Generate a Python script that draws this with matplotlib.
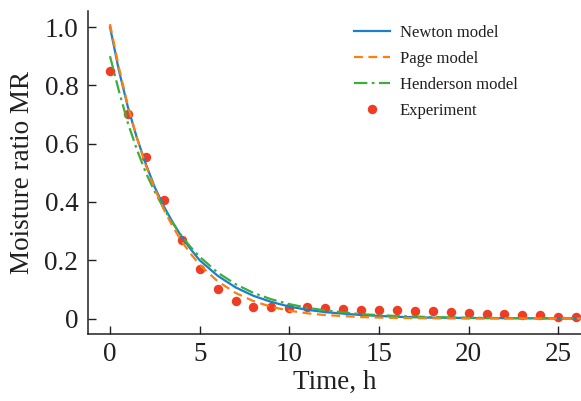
import matplotlib
matplotlib.use("Agg")
import matplotlib.pyplot as plt

# Experimental data
t_exp = list(range(0, 27))
mr_exp = [0.85, 0.70, 0.555, 0.405, 0.27, 0.17, 0.10, 0.06, 0.04, 0.04, 0.035,
          0.038, 0.035, 0.033, 0.031, 0.029, 0.028, 0.026, 0.025, 0.022, 0.020,
          0.017, 0.015, 0.013, 0.011, 0.004, 0.004]

# Model curves
t_mod = [0, 0.5, 1, 1.5, 2, 2.5, 3, 3.5, 4, 4.5, 5, 6, 7, 8, 9, 10, 11, 12, 14, 16, 18, 20, 23, 26.3]
mr_newton = [1.00, 0.85, 0.725, 0.62, 0.53, 0.45, 0.385, 0.33, 0.28, 0.238, 0.20, 0.147, 0.107,
             0.078, 0.057, 0.041, 0.030, 0.022, 0.012, 0.006, 0.003, 0.002, 0.001, 0.0]
mr_page = [1.01, 0.86, 0.73, 0.62, 0.525, 0.445, 0.375, 0.315, 0.265, 0.222, 0.185, 0.128, 0.088,
           0.060, 0.040, 0.027, 0.018, 0.012, 0.005, 0.002, 0.001, 0.0, 0.0, 0.0]
mr_henderson = [0.90, 0.78, 0.67, 0.58, 0.50, 0.435, 0.377, 0.327, 0.283, 0.245, 0.212, 0.158, 0.118,
                0.088, 0.066, 0.0495, 0.037, 0.028, 0.015, 0.0087, 0.005, 0.0027, 0.001, 0.0005]

x_ticks = [0, 5, 10, 15, 20, 25]
y_ticks = [0, 0.2, 0.4, 0.6, 0.8, 1.0]
y_ticklabels = ["0", "0.2", "0.4", "0.6", "0.8", "1.0"]

plt.rcParams['font.family'] = ['Liberation Serif', 'DejaVu Serif']
TXT = '#231f20'

fig = plt.figure(figsize=(5.81, 4.01), dpi=100)
ax = fig.add_axes([88/581, 1 - 334/401, 1 - 88/581, (334 - 11)/401])

ax.plot(t_mod, mr_newton, color='#1a7fcf', lw=1.6, label='Newton model', zorder=3)
ax.plot(t_mod, mr_page, color='#ff7f0e', lw=1.6, ls=(0, (4, 2.5)), label='Page model', zorder=4)
ax.plot(t_mod, mr_henderson, color='#3cae3c', lw=1.6, ls=(0, (6, 2, 1.2, 2)), label='Henderson model', zorder=3)
ax.plot(t_exp, mr_exp, 'o', color='#ee3d24', ms=6.8, mec='none', label='Experiment', zorder=2)

ax.set_xlim(-1.227, 26.27)
ax.set_ylim(-0.053, 1.055)
ax.set_xticks(x_ticks)
ax.set_yticks(y_ticks)
ax.set_yticklabels(y_ticklabels)

for s in ['top', 'right']:
    ax.spines[s].set_visible(False)
for s in ['left', 'bottom']:
    ax.spines[s].set_linewidth(1.1)
    ax.spines[s].set_color(TXT)

ax.tick_params(axis='both', direction='in', length=6, width=1.0, labelsize=19.5, colors=TXT)
ax.tick_params(axis='y', pad=7)
ax.tick_params(axis='x', pad=6)

ax.set_xlabel('Time, h', fontsize=19.5, labelpad=2, color=TXT)
ax.set_ylabel('Moisture ratio MR', fontsize=19.5, labelpad=7, color=TXT)

leg = ax.legend(loc='upper left', bbox_to_anchor=(347/581, 1 - 18/401), bbox_transform=fig.transFigure,
                frameon=False, fontsize=12, handlelength=2.2, handletextpad=0.55, labelspacing=0.6,
                borderaxespad=0, borderpad=0.4)
for t in leg.get_texts():
    t.set_color(TXT)

fig.savefig('out.png', dpi=100)
